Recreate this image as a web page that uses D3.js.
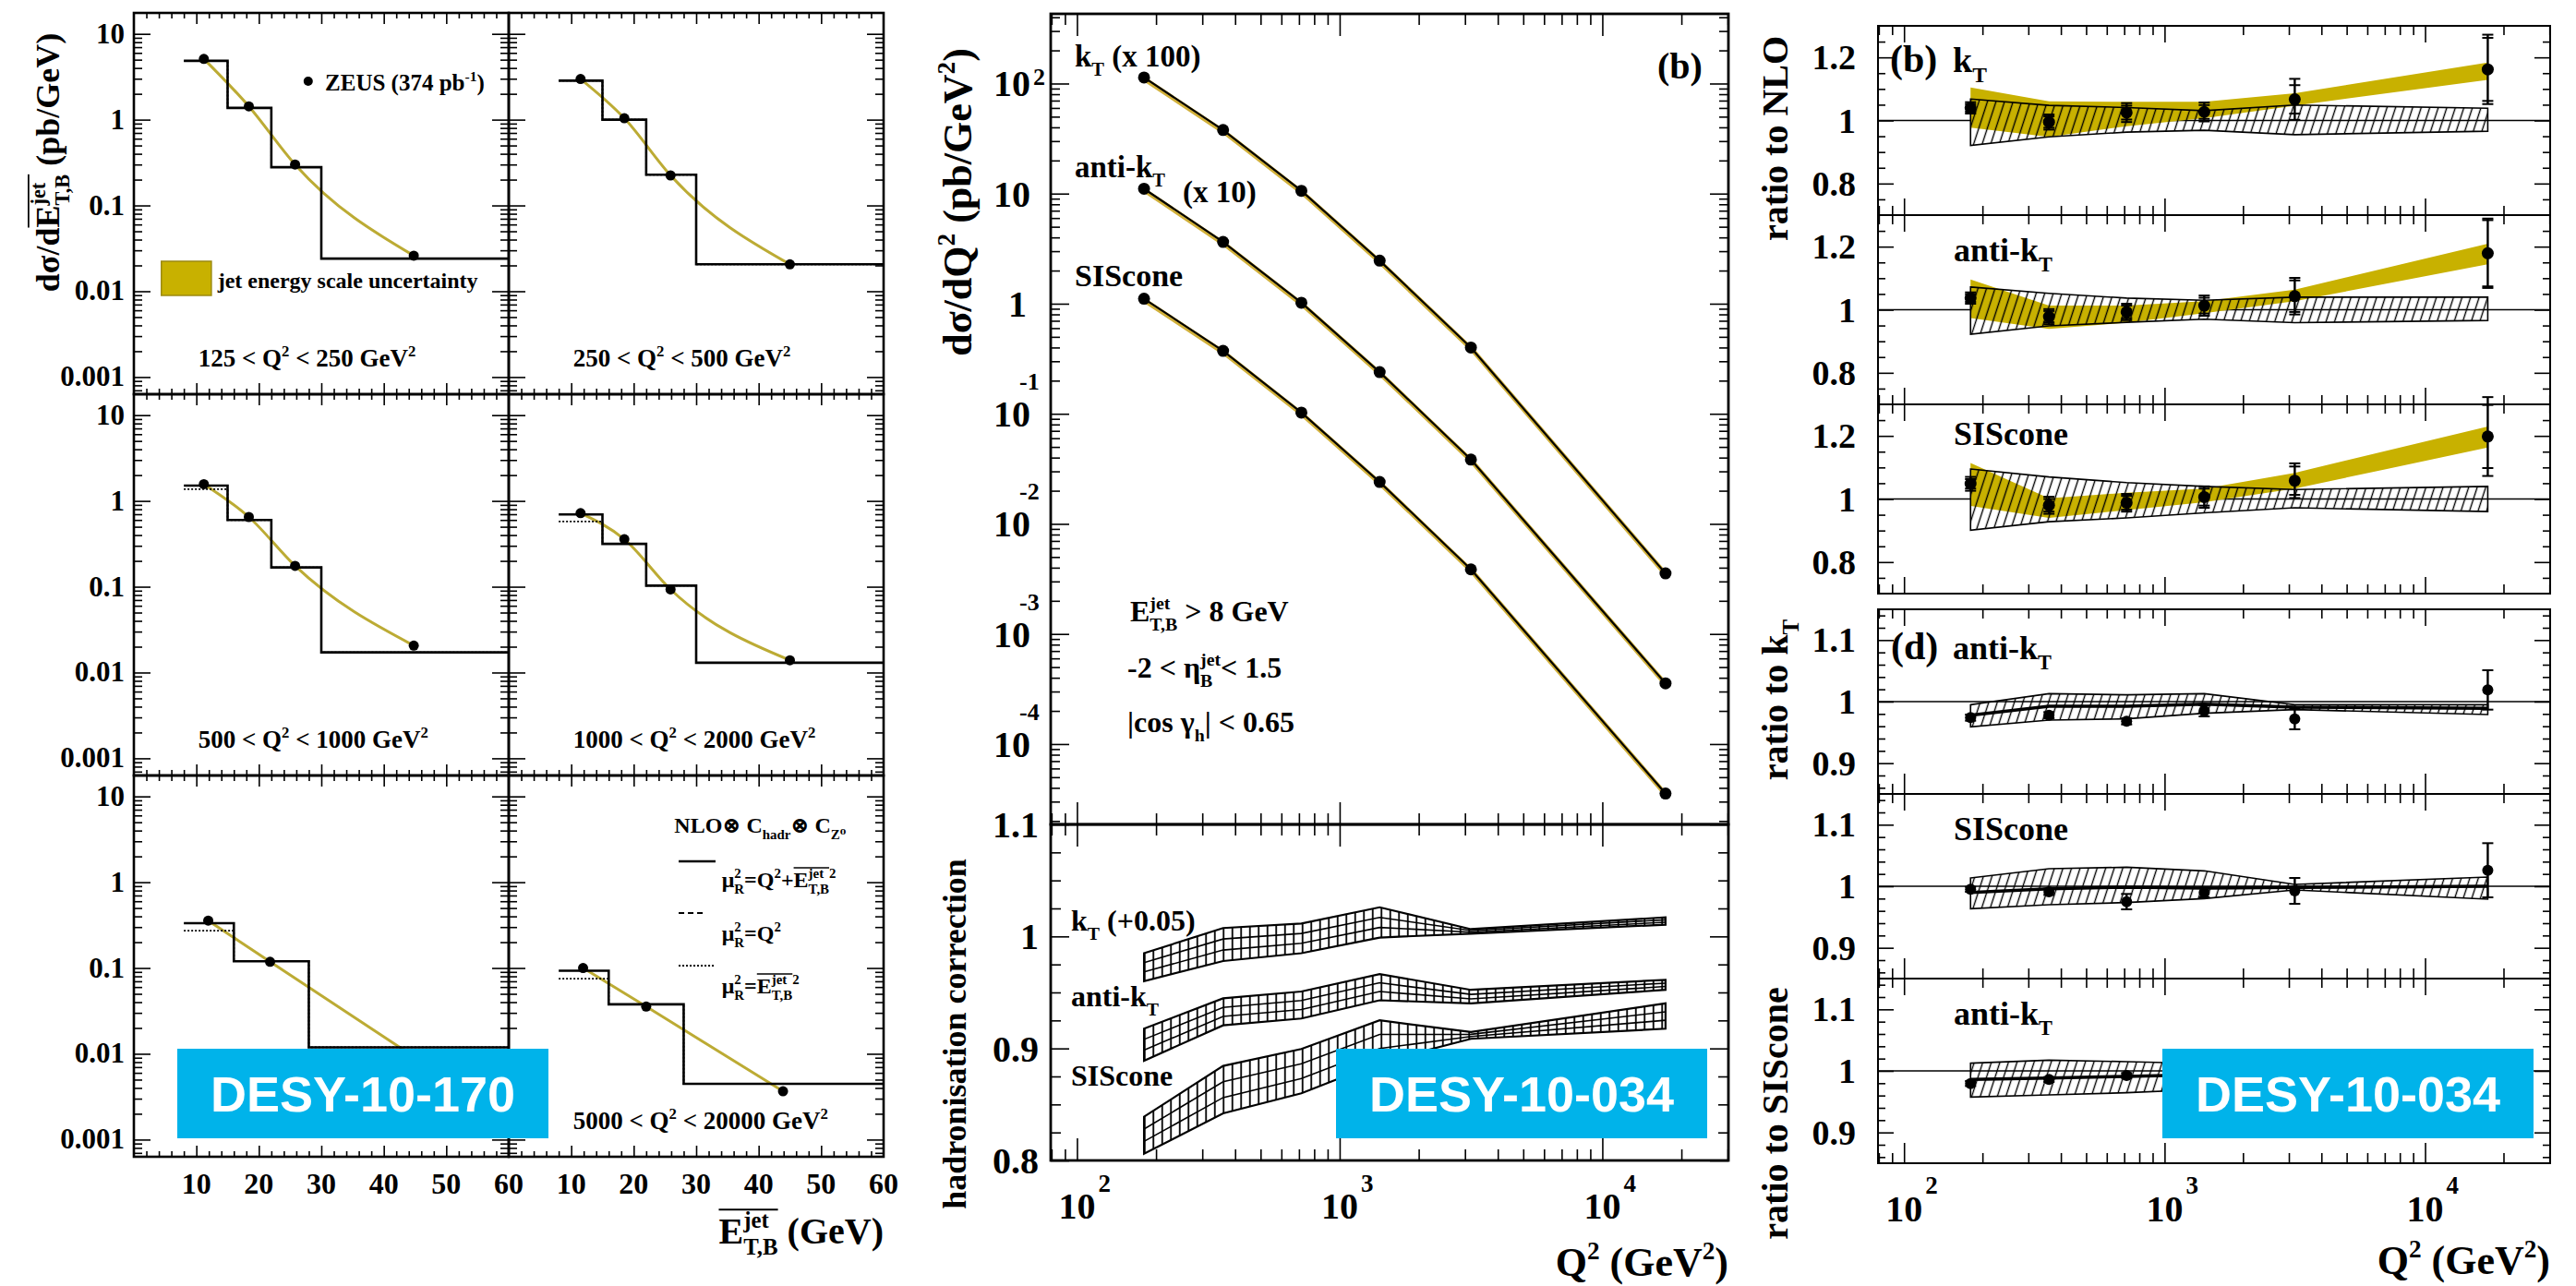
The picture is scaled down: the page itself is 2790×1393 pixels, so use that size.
<!DOCTYPE html>
<html>
<head>
<meta charset="utf-8">
<title>ZEUS inclusive jet cross sections</title>
<script src="https://cdn.jsdelivr.net/npm/d3@7"></script>
<style>
  body { margin: 0; background: #fff; }
  text { font-family: "Liberation Serif", "DejaVu Serif", serif; font-weight: bold; fill: #000; }
  text.desy { font-family: "Liberation Sans", Arial, sans-serif; fill: #fff; }
</style>
</head>
<body>
<script>
// ---------- values ----------

// left block (DESY-10-170): dsigma/dEt (pb/GeV) in six Q2 bins
var q2BinLabels = ["125 < Q^{2} < 250 GeV^{2}", "250 < Q^{2} < 500 GeV^{2}",
                   "500 < Q^{2} < 1000 GeV^{2}", "1000 < Q^{2} < 2000 GeV^{2}",
                   "", "5000 < Q^{2} < 20000 GeV^{2}"];   // 2000-5000 label is under the DESY tag
var etEdgesLow = [8, 15, 22, 30, 60];
var etEdgesHigh = [8, 16, 28, 60];
var nloEtSolid = [
  [4.85, 1.37, 0.279, 0.024],
  [2.85, 1.0, 0.228, 0.0206],
  [1.51, 0.60, 0.168, 0.0172],
  [0.695, 0.316, 0.103, 0.013],
  [0.333, 0.12, 0.0119],
  [0.093, 0.0377, 0.00447]
];
var nloEtDotted = [
  [4.85, 1.37, 0.279, 0.024],
  [2.85, 1.0, 0.228, 0.0206],
  [1.37, 0.60, 0.168, 0.0172],
  [0.575, 0.316, 0.103, 0.013],
  [0.272, 0.12, 0.0119],
  [0.075, 0.0377, 0.00447]
];
var zeusEt = [
  [11.2, 18.4, 25.8, 44.8],
  [11.5, 18.5, 25.9, 45.0],
  [11.2, 18.4, 25.8, 44.8],
  [11.5, 18.5, 25.9, 45.0],
  [11.9, 21.8, 44.8],
  [11.9, 22.0, 43.9]
];
var zeusEtXsec = [
  [5.1, 1.43, 0.30, 0.026],
  [2.98, 1.04, 0.224, 0.0206],
  [1.57, 0.65, 0.175, 0.0206],
  [0.72, 0.358, 0.093, 0.0139],
  [0.357, 0.118, 0.0093],
  [0.1, 0.0355, 0.00366]
];

// middle block (DESY-10-034): dsigma/dQ2 and hadronisation corrections
var q2Points = [180, 360, 715, 1420, 3160, 17400];
var xsecScale = [100, 10, 1];
var xsecQ2 = [
  [1.135, 0.378, 0.106, 0.0246, 0.0040, 0.0000355],
  [1.107, 0.364, 0.102, 0.0239, 0.00384, 0.0000356],
  [1.11, 0.373, 0.1026, 0.024, 0.00386, 0.0000355]
];
var hadrOffset = [0.05, 0, 0];
var hadrUp = [
  [0.935, 0.9575, 0.9615, 0.976, 0.9565, 0.967],
  [0.9176, 0.9447, 0.9508, 0.9664, 0.9523, 0.9613],
  [0.839, 0.8844, 0.8995, 0.9251, 0.9146, 0.9402]
];
var hadrLo = [
  [0.91, 0.928, 0.935, 0.949, 0.9525, 0.9605],
  [0.889, 0.9206, 0.9267, 0.943, 0.9402, 0.9523],
  [0.806, 0.842, 0.86, 0.8874, 0.9086, 0.9176]
];

// right block: ratios
var ratioNlo = [
  [1.04, 0.995, 1.025, 1.027, 1.067, 1.162],
  [1.037, 0.978, 0.993, 1.013, 1.043, 1.179],
  [1.048, 0.98, 0.988, 1.006, 1.058, 1.198]
];
var ratioNloStat = [
  [0.012, 0.018, 0.022, 0.022, 0.045, 0.1],
  [0.012, 0.018, 0.02, 0.025, 0.05, 0.105],
  [0.015, 0.02, 0.022, 0.027, 0.045, 0.1]
];
var ratioNloTot = [
  [0.018, 0.024, 0.03, 0.03, 0.065, 0.11],
  [0.018, 0.024, 0.026, 0.032, 0.058, 0.11],
  [0.022, 0.027, 0.028, 0.034, 0.055, 0.125]
];
var jesUp = [
  [1.105, 1.061, 1.059, 1.059, 1.086, 1.184],
  [1.096, 1.013, 1.013, 1.027, 1.064, 1.209],
  [1.114, 1.002, 1.02, 1.033, 1.083, 1.23]
];
var jesLo = [
  [0.977, 0.948, 0.982, 1.007, 1.047, 1.129],
  [0.974, 0.939, 0.959, 0.989, 1.027, 1.144],
  [0.978, 0.94, 0.965, 0.99, 1.033, 1.163]
];
var nloUp = [
  [1.068, 1.048, 1.041, 1.031, 1.049, 1.039],
  [1.072, 1.052, 1.037, 1.03, 1.04, 1.04],
  [1.095, 1.07, 1.052, 1.04, 1.03, 1.04]
];
var nloLo = [
  [0.921, 0.948, 0.963, 0.969, 0.955, 0.966],
  [0.922, 0.949, 0.96, 0.97, 0.959, 0.966],
  [0.901, 0.928, 0.94, 0.956, 0.972, 0.96]
];
var ratioAlgo = [
  [0.974, 0.978, 0.968, 0.985, 0.972, 1.019],
  [0.995, 0.991, 0.975, 0.99, 0.9925, 1.026],
  [0.9795, 0.986, 0.9925]
];
var ratioAlgoErr = [
  [0.005, 0.005, 0.005, 0.009, 0.017, 0.032],
  [0.004, 0.005, 0.0125, 0.008, 0.021, 0.044],
  [0.004, 0.004, 0.004]
];
var algoMid = [
  [0.978, 0.9925, 0.9925, 0.996, 0.991, 0.989],
  [0.99, 0.996, 0.9985, 0.997, 0.998, 1.0],
  [0.986, 0.9885, 0.991, 0.994, 0.996, 0.998]
];
var algoUp = [
  [0.995, 1.013, 1.011, 1.013, 0.995, 0.995],
  [1.0135, 1.0285, 1.031, 1.025, 1.003, 1.015],
  [1.0125, 1.0175, 1.015, 1.012, 1.008, 1.01]
];
var algoLo = [
  [0.959, 0.97, 0.972, 0.981, 0.987, 0.979],
  [0.9635, 0.97, 0.9735, 0.98, 0.994, 0.979],
  [0.9575, 0.961, 0.9645, 0.97, 0.98, 0.985]
];

// ---------- drawing ----------
var W = 2790, H = 1393;
var jes = "#c8b100";
var svg = d3.select("body").append("svg").attr("width", W).attr("height", H);
svg.append("rect").attr("width", W).attr("height", H).attr("fill", "#fff");

var defs = svg.append("defs");
defs.append("pattern").attr("id", "hatchDiag").attr("patternUnits", "userSpaceOnUse")
  .attr("width", 8.8).attr("height", 10).attr("patternTransform", "rotate(18)")
  .append("line").attr("x1", 4.4).attr("y1", -1).attr("x2", 4.4).attr("y2", 11)
  .attr("stroke", "#000").attr("stroke-width", 1.4);
defs.append("pattern").attr("id", "hatchVert").attr("patternUnits", "userSpaceOnUse")
  .attr("width", 9.5).attr("height", 10)
  .append("line").attr("x1", 4.75).attr("y1", -1).attr("x2", 4.75).attr("y2", 11)
  .attr("stroke", "#000").attr("stroke-width", 1.8);

// text with ^{sup}, _{sub}, _{sub}^{sup} (stacked) and [overlined] parts
function rich(parent, str, fs, anchor, weight) {
  var t = parent.append("text").attr("font-size", fs).attr("text-anchor", anchor || "start");
  if (weight) t.attr("font-weight", weight);
  var toks = str.match(/\[|\]|_\{[^}]*\}\^\{[^}]*\}|\^\{[^}]*\}|_\{[^}]*\}|[^\[\]_^]+/g) || [];
  var off = 0, pend = 0, n = 0, cur = null, groups = [];
  var sm = fs * 0.62;
  function add(txt, size, target, dx) {
    var s = t.append("tspan").attr("font-size", size).text(txt);
    if (target - off) s.attr("dy", target - off);
    if (dx) s.attr("dx", dx);
    off = target;
    if (cur) { if (cur.a < 0) cur.a = n; cur.b = n + txt.length - 1; }
    n += txt.length;
    return s.node();
  }
  toks.forEach(function(k) {
    if (k === "[") { cur = {a: -1, b: -1}; return; }
    if (k === "]") { groups.push(cur); cur = null; return; }
    var d = pend; pend = 0;
    if (k[0] === "_" && k.indexOf("}^{") > 0) {
      var m = k.indexOf("}^{");
      var la = add(k.slice(2, m), sm, 0.3 * fs, d).getComputedTextLength();
      var lb = add(k.slice(m + 3, -1), sm, -0.42 * fs, -la).getComputedTextLength();
      pend = Math.max(0, la - lb);
    } else if (k[0] === "^") {
      add(k.slice(2, -1), sm, -0.42 * fs, d);
    } else if (k[0] === "_") {
      add(k.slice(2, -1), sm, 0.3 * fs, d);
    } else {
      add(k, fs, 0, d);
    }
  });
  groups.forEach(function(gp) {
    var node = t.node(), x0 = Infinity, x1 = -Infinity, y0 = Infinity;
    for (var i = gp.a; i <= gp.b; i++) {
      var e = node.getExtentOfChar(i);
      x0 = Math.min(x0, e.x); x1 = Math.max(x1, e.x + e.width); y0 = Math.min(y0, e.y);
    }
    parent.append("line").attr("x1", x0).attr("x2", x1).attr("y1", y0 + 2).attr("y2", y0 + 2)
      .attr("stroke", "#000").attr("stroke-width", Math.max(1.5, fs * 0.05));
  });
  return t;
}

function label(x, y, str, fs, opt) {
  opt = opt || {};
  var g = svg.append("g").attr("transform", "translate(" + x + "," + y + ")" + (opt.rot ? " rotate(-90)" : ""));
  rich(g, str, fs, opt.anchor, opt.weight);
  return g;
}

function ticks(orient, scale, values, size, pos, sw) {
  var ax = orient === "left" ? d3.axisLeft(scale) : orient === "right" ? d3.axisRight(scale)
         : orient === "top" ? d3.axisTop(scale) : d3.axisBottom(scale);
  var tr = (orient === "left" || orient === "right") ? "translate(" + pos + ",0)" : "translate(0," + pos + ")";
  var a = svg.append("g").attr("transform", tr)
    .call(ax.tickValues(values).tickSize(size).tickFormat(""));
  a.select(".domain").remove();
  a.selectAll("line").attr("stroke", "#000").attr("stroke-width", sw || 1.6);
}

function frame(x0, y0, x1, y1, sw) {
  svg.append("rect").attr("x", x0).attr("y", y0).attr("width", x1 - x0).attr("height", y1 - y0)
    .attr("fill", "none").attr("stroke", "#000").attr("stroke-width", sw);
}

function isPow10(v) { var l = Math.log10(v); return Math.abs(l - Math.round(l)) < 1e-9; }

// ===== left block =====
var etLeft = 145, etTop = 14, etCellW = 406, etCellH = 413;
var etYDomain = [Math.pow(10, -3.2), Math.pow(10, 1.244)];
var etMajor = [10, 20, 30, 40, 50];
var etMinor = d3.range(2, 60, 2).filter(function(v) { return v % 10 !== 0; });
var etLabelVals = [10, 1, 0.1, 0.01, 0.001];

q2BinLabels.forEach(function(lab, i) {
  var r = Math.floor(i / 2), c = i % 2;
  var x0 = etLeft + c * etCellW, x1 = x0 + etCellW;
  var y0 = etTop + r * etCellH, y1 = y0 + etCellH;
  var x = d3.scaleLinear().domain([0, 60]).range([x0, x1]);
  var y = d3.scaleLog().domain(etYDomain).range([y1, y0]);
  var edges = nloEtSolid[i].length === 4 ? etEdgesLow : etEdgesHigh;
  var step = d3.line().x(function(d) { return x(d[0]); }).y(function(d) { return y(d[1]); }).curve(d3.curveStepAfter);
  function stepPts(v) { return edges.map(function(e, j) { return [e, v[Math.min(j, v.length - 1)]]; }); }
  var pts = zeusEt[i].map(function(e, j) { return [e, zeusEtXsec[i][j]]; });

  svg.append("path")
    .attr("d", d3.line().x(function(d) { return x(d[0]); }).y(function(d) { return y(d[1]); }).curve(d3.curveMonotoneX)(pts))
    .attr("fill", "none").attr("stroke", "#bcab34").attr("stroke-width", 3);
  svg.append("path").attr("d", step(stepPts(nloEtDotted[i])))
    .attr("fill", "none").attr("stroke", "#000").attr("stroke-width", 1.8).attr("stroke-dasharray", "2,2");
  svg.append("path").attr("d", step(stepPts(nloEtSolid[i])))
    .attr("fill", "none").attr("stroke", "#000").attr("stroke-width", 2.6);
  svg.selectAll(null).data(pts).enter().append("circle")
    .attr("cx", function(d) { return x(d[0]); }).attr("cy", function(d) { return y(d[1]); })
    .attr("r", 5.5).attr("fill", "#000");

  var yt = y.ticks();
  var yMaj = yt.filter(isPow10), yMin = yt.filter(function(v) { return !isPow10(v); });
  ticks("right", y, yMaj, 18, x0); ticks("right", y, yMin, 9, x0);
  ticks("left", y, yMaj, 18, x1); ticks("left", y, yMin, 9, x1);
  ticks("bottom", x, etMajor, 12, y0); ticks("bottom", x, etMinor, 6, y0);
  ticks("top", x, etMajor, 12, y1); ticks("top", x, etMinor, 6, y1);
  frame(x0, y0, x1, y1, 2.6);

  if (c === 0) {
    etLabelVals.forEach(function(v) {
      label(x0 - 10, y(v) + 10, String(v), 31, {anchor: "end"});
    });
  }
  if (r === 2) {
    [10, 20, 30, 40, 50, 60].forEach(function(v) {
      label(x(v), y1 + 40, String(v), 32, {anchor: "middle"});
    });
  }
  if (lab) label(x(10.3), y1 - 30, lab, 27);

  if (i === 0) {
    svg.append("circle").attr("cx", x(27.9)).attr("cy", y0 + 74).attr("r", 5).attr("fill", "#000");
    label(x(30.6), y0 + 84, "ZEUS (374 pb^{-1})", 25);
    svg.append("rect").attr("x", x(4.4)).attr("y", y0 + 269).attr("width", x(12.4) - x(4.4)).attr("height", 37)
      .attr("fill", jes).attr("stroke", "#9c8a10").attr("stroke-width", 1.5);
    label(x(13.4), y0 + 298, "jet energy scale uncertainty", 24);
  }
  if (i === 5) {
    label(x(26.5), y0 + 62, "NLO⊗ C_{hadr}⊗ C_{Z⁰}", 24);
    svg.append("line").attr("x1", x(27.2)).attr("x2", x(33.1)).attr("y1", y0 + 93).attr("y2", y0 + 93)
      .attr("stroke", "#000").attr("stroke-width", 2.6);
    label(x(34.1), y0 + 121, "μ_{R}^{2}=Q^{2}+[E_{T,B}^{jet}]^{2}", 24);
    svg.append("line").attr("x1", x(27.2)).attr("x2", x(31.5)).attr("y1", y0 + 149).attr("y2", y0 + 149)
      .attr("stroke", "#000").attr("stroke-width", 2.2).attr("stroke-dasharray", "6,4");
    label(x(34.1), y0 + 179, "μ_{R}^{2}=Q^{2}", 24);
    svg.append("line").attr("x1", x(27.2)).attr("x2", x(33.1)).attr("y1", y0 + 206).attr("y2", y0 + 206)
      .attr("stroke", "#000").attr("stroke-width", 1.8).attr("stroke-dasharray", "2,2");
    label(x(34.1), y0 + 236, "μ_{R}^{2}=[E_{T,B}^{jet}]^{2}", 24);
  }
});
label(64, 176, "dσ/d[E_{T,B}^{jet}] (pb/GeV)", 36, {anchor: "middle", rot: true});
label(957, 1347, "[E_{T,B}^{jet}] (GeV)", 40, {anchor: "end"});

// ===== middle block =====
var q2Domain = [Math.pow(10, 1.9), Math.pow(10, 4.48)];
var mx = d3.scaleLog().domain(q2Domain).range([1138, 1872]);
var mTop = 15, mSplit = 893, mBot = 1257;
var xsecY = d3.scaleLog().domain([Math.pow(10, -4.73), Math.pow(10, 2.633)]).range([mSplit, mTop]);
var hadrY = d3.scaleLinear().domain([0.8, 1.1]).range([mBot, mSplit]);

var qt = mx.ticks();
var qMaj = qt.filter(isPow10), qMin = qt.filter(function(v) { return !isPow10(v); });

xsecQ2.forEach(function(vals, a) {
  var pts = vals.map(function(v, i) { return [q2Points[i], v * xsecScale[a]]; });
  var ln = d3.line().x(function(d) { return mx(d[0]); }).y(function(d) { return xsecY(d[1]); });
  svg.append("path").attr("d", ln(pts)).attr("transform", "translate(1.5,2.5)")
    .attr("fill", "none").attr("stroke", "#d1b03a").attr("stroke-width", 5);
  svg.append("path").attr("d", ln(pts)).attr("fill", "none").attr("stroke", "#000").attr("stroke-width", 2.2);
  svg.selectAll(null).data(pts).enter().append("circle")
    .attr("cx", function(d) { return mx(d[0]); }).attr("cy", function(d) { return xsecY(d[1]); })
    .attr("r", 6.5).attr("fill", "#000");
});

hadrUp.forEach(function(up, a) {
  var lo = hadrLo[a], off = hadrOffset[a];
  var area = d3.area().x(function(d, i) { return mx(q2Points[i]); })
    .y0(function(d, i) { return hadrY(lo[i] + off); })
    .y1(function(d, i) { return hadrY(up[i] + off); });
  svg.append("path").attr("d", area(up)).attr("fill", "url(#hatchVert)")
    .attr("stroke", "#000").attr("stroke-width", 2.2);
  [1 / 3, 2 / 3].forEach(function(f) {
    var ln = d3.line().x(function(d, i) { return mx(q2Points[i]); })
      .y(function(d, i) { return hadrY(lo[i] + (up[i] - lo[i]) * f + off); });
    svg.append("path").attr("d", ln(up)).attr("fill", "none").attr("stroke", "#000").attr("stroke-width", 1.6);
  });
});

var xt = xsecY.ticks();
var xMaj = xt.filter(isPow10), xMin = xt.filter(function(v) { return !isPow10(v); });
ticks("right", xsecY, xMaj, 20, 1138); ticks("right", xsecY, xMin, 10, 1138);
ticks("left", xsecY, xMaj, 20, 1872); ticks("left", xsecY, xMin, 10, 1872);
ticks("bottom", mx, qMaj, 24, mTop); ticks("bottom", mx, qMin, 12, mTop);
ticks("top", mx, qMaj, 24, mSplit); ticks("top", mx, qMin, 12, mSplit);
var hMaj = [0.8, 0.9, 1.0, 1.1];
var hMin = d3.range(33, 44).map(function(k) { return k * 0.025; }).filter(function(v) { return Math.abs(v * 10 - Math.round(v * 10)) > 1e-6; });
ticks("right", hadrY, hMaj, 20, 1138); ticks("right", hadrY, hMin, 11, 1138);
ticks("left", hadrY, hMaj, 20, 1872); ticks("left", hadrY, hMin, 11, 1872);
ticks("bottom", mx, qMaj, 24, mSplit); ticks("bottom", mx, qMin, 12, mSplit);
ticks("top", mx, qMaj, 24, mBot); ticks("top", mx, qMin, 12, mBot);
frame(1138, mTop, 1872, mSplit, 2.8);
frame(1138, mSplit, 1872, mBot, 2.8);

[2, 1, 0, -1, -2, -3, -4].forEach(function(e) {
  var yy = xsecY(Math.pow(10, e));
  if (e === 0) { label(1112, yy + 14, "1", 40, {anchor: "end"}); return; }
  label(1116, yy + 14, "10", 40, {anchor: "end"});
  if (e === 2) label(1119, yy + 2, "2", 26);
  if (e < 0) label(1104, yy - 26, String(e), 26);
});
hMaj.forEach(function(v) { label(1125, hadrY(v) + 14, String(v), 40, {anchor: "end"}); });
qMaj.forEach(function(v) {
  label(mx(v), 1320, "10", 40, {anchor: "middle"});
  label(mx(v) + 23, 1291, String(Math.round(Math.log10(v))), 27);
});

label(1164, 72, "k_{T} (x 100)", 33);
label(1164, 192, "anti-k_{T}", 33);
label(1281, 219, "(x 10)", 33);
label(1164, 310, "SIScone", 34);
label(1795, 85, "(b)", 40, {weight: "normal"});
label(1224, 673, "E_{T,B}^{jet} > 8 GeV", 32);
label(1221, 734, "-2 < η_{B}^{jet}< 1.5", 32);
label(1221, 793, "|cos γ_{h}| < 0.65", 32);
label(1160, 1008, "k_{T} (+0.05)", 32);
label(1160, 1090, "anti-k_{T}", 32);
label(1160, 1176, "SIScone", 32);
label(1052, 219, "dσ/dQ^{2} (pb/GeV^{2})", 44, {anchor: "middle", rot: true});
label(1046, 1120, "hadronisation correction", 36, {anchor: "middle", rot: true});
label(1872, 1382, "Q^{2} (GeV^{2})", 44, {anchor: "end"});

// ===== right block =====
var rx = d3.scaleLog().domain(q2Domain).range([2034, 2762]);
var rxt = rx.ticks();
var rMaj = rxt.filter(isPow10), rMin = rxt.filter(function(v) { return !isPow10(v); });
var nloNames = ["k_{T}", "anti-k_{T}", "SIScone"];
var nloMaj = [0.8, 1.0, 1.2];

function errBar(xp, yv, v, e1, e2) {
  var g = svg.append("g");
  var ee = Math.max(e1, e2 || 0);
  g.append("line").attr("x1", xp).attr("x2", xp).attr("y1", yv(v - ee)).attr("y2", yv(v + ee))
    .attr("stroke", "#000").attr("stroke-width", 2.4);
  [e1, e2].forEach(function(e) {
    if (!e) return;
    [v - e, v + e].forEach(function(w) {
      g.append("line").attr("x1", xp - 6).attr("x2", xp + 6).attr("y1", yv(w)).attr("y2", yv(w))
        .attr("stroke", "#000").attr("stroke-width", 2);
    });
  });
}

ratioNlo.forEach(function(vals, a) {
  var y0 = 28 + a * 205, y1 = y0 + 205;
  var y = d3.scaleLinear().domain([0.7, 1.3]).range([y1, y0]);
  svg.append("line").attr("x1", 2034).attr("x2", 2762).attr("y1", y(1)).attr("y2", y(1))
    .attr("stroke", "#000").attr("stroke-width", 1.6);
  var ax = function(d, i) { return rx(q2Points[i]); };
  svg.append("path").attr("d", d3.area().x(ax)
      .y0(function(d, i) { return y(jesLo[a][i]); }).y1(function(d, i) { return y(jesUp[a][i]); })(vals))
    .attr("fill", jes);
  svg.append("path").attr("d", d3.area().x(ax)
      .y0(function(d, i) { return y(nloLo[a][i]); }).y1(function(d, i) { return y(nloUp[a][i]); })(vals))
    .attr("fill", "url(#hatchDiag)").attr("stroke", "#000").attr("stroke-width", 1.6);
  vals.forEach(function(v, i) { errBar(rx(q2Points[i]), y, v, ratioNloStat[a][i], ratioNloTot[a][i]); });
  svg.selectAll(null).data(vals).enter().append("circle")
    .attr("cx", function(d, i) { return rx(q2Points[i]); }).attr("cy", function(d) { return y(d); })
    .attr("r", 6.5).attr("fill", "#000");

  var yMin = d3.range(15, 26).map(function(k) { return k * 0.05; }).filter(function(v) {
    return nloMaj.every(function(m) { return Math.abs(m - v) > 1e-6; });
  });
  ticks("right", y, nloMaj, 17, 2034); ticks("right", y, yMin, 8, 2034);
  ticks("left", y, nloMaj, 17, 2762); ticks("left", y, yMin, 8, 2762);
  ticks("bottom", rx, rMaj, 18, y0); ticks("bottom", rx, rMin, 10, y0);
  ticks("top", rx, rMaj, 18, y1); ticks("top", rx, rMin, 10, y1);
  frame(2034, y0, 2762, y1, 2);
  nloMaj.forEach(function(v) { label(2010, y(v) + 13, v === 1 ? "1" : String(v), 38, {anchor: "end"}); });
  if (a === 0) {
    label(2047, 78, "(b)", 42, {weight: "normal"});
    label(2115, 78, "k_{T}", 38);
  } else {
    label(2116, y0 + (a === 1 ? 50 : 44), nloNames[a], 36);
  }
});

var algoNames = ["anti-k_{T}", "SIScone", "anti-k_{T}"];
ratioAlgo.forEach(function(vals, a) {
  var y0 = 660 + a * 200, y1 = y0 + 200;
  var y = d3.scaleLinear().domain([0.85, 1.15]).range([y1, y0]);
  svg.append("line").attr("x1", 2034).attr("x2", 2762).attr("y1", y(1)).attr("y2", y(1))
    .attr("stroke", "#000").attr("stroke-width", 1.6);
  var ax = function(d, i) { return rx(q2Points[i]); };
  svg.append("path").attr("d", d3.area().x(ax)
      .y0(function(d, i) { return y(algoLo[a][i]); }).y1(function(d, i) { return y(algoUp[a][i]); })(algoMid[a]))
    .attr("fill", "url(#hatchDiag)").attr("stroke", "#000").attr("stroke-width", 1.6);
  svg.append("path").attr("d", d3.line().x(ax).y(function(d) { return y(d); })(algoMid[a]))
    .attr("fill", "none").attr("stroke", "#000").attr("stroke-width", 3.5);
  vals.forEach(function(v, i) { errBar(rx(q2Points[i]), y, v, ratioAlgoErr[a][i]); });
  svg.selectAll(null).data(vals).enter().append("circle")
    .attr("cx", function(d, i) { return rx(q2Points[i]); }).attr("cy", function(d) { return y(d); })
    .attr("r", 6).attr("fill", "#000");

  var maj = [0.9, 1.0, 1.1];
  var mn = d3.range(43, 58).map(function(k) { return k * 0.02; }).filter(function(v) {
    return maj.every(function(m) { return Math.abs(m - v) > 1e-6; });
  });
  ticks("right", y, maj, 17, 2034); ticks("right", y, mn, 8, 2034);
  ticks("left", y, maj, 17, 2762); ticks("left", y, mn, 8, 2762);
  ticks("bottom", rx, rMaj, 18, y0); ticks("bottom", rx, rMin, 10, y0);
  ticks("top", rx, rMaj, 22, y1); ticks("top", rx, rMin, 11, y1);
  frame(2034, y0, 2762, y1, 2);
  maj.forEach(function(v) { label(2010, y(v) + 13, v === 1 ? "1" : String(v), 38, {anchor: "end"}); });
  if (a === 0) label(2048, y0 + 54, "(d)", 42, {weight: "normal"});
  label(a === 0 ? 2115 : 2116, y0 + (a === 0 ? 54 : 50), algoNames[a], 36);
});
rMaj.forEach(function(v) {
  label(rx(v), 1323, "10", 40, {anchor: "middle"});
  label(rx(v) + 23, 1293, String(Math.round(Math.log10(v))), 27);
});
label(1936, 150, "ratio to NLO", 40, {anchor: "middle", rot: true});
label(1936, 758, "ratio to k_{T}", 40, {anchor: "middle", rot: true});
label(1936, 1206, "ratio to SIScone", 40, {anchor: "middle", rot: true});
label(2762, 1380, "Q^{2} (GeV^{2})", 44, {anchor: "end"});

// ===== paper tags =====
var tagX = [192, 1447, 2342];
var tagText = ["DESY-10-170", "DESY-10-034", "DESY-10-034"];
tagX.forEach(function(tx, i) {
  svg.append("rect").attr("x", tx).attr("y", 1136).attr("width", 402).attr("height", 97).attr("fill", "#00b3ea");
  svg.append("text").attr("class", "desy").attr("x", tx + 201).attr("y", 1204)
    .attr("text-anchor", "middle").attr("font-size", 54).text(tagText[i]);
});
</script>
</body>
</html>
